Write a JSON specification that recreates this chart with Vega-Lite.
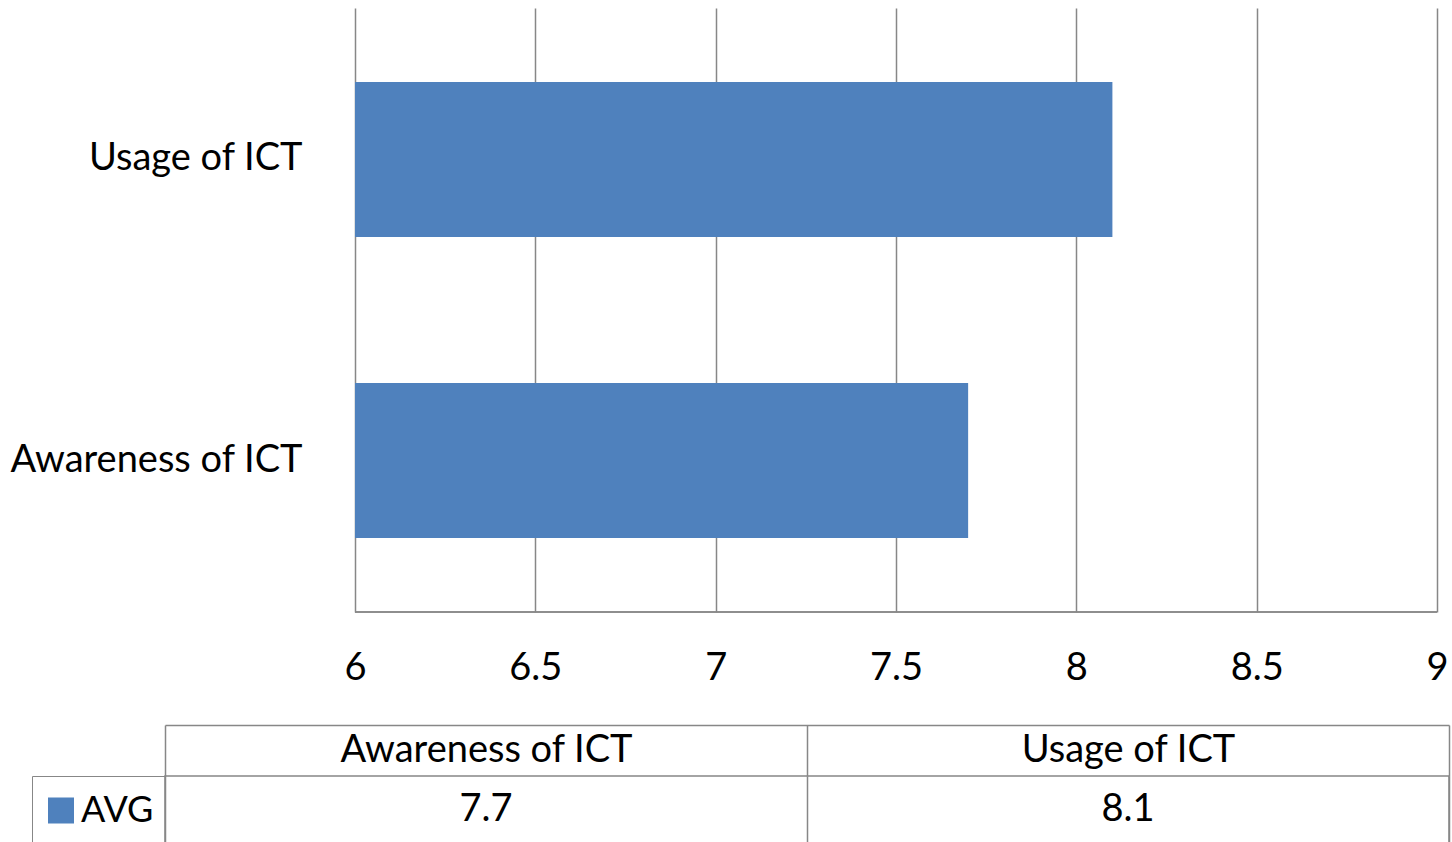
{
  "$schema": "https://vega.github.io/schema/vega-lite/v6.json",
  "autosize": {"type": "none"},
  "padding": {"left": 165, "top": 8, "right": 1287, "bottom": 834},
  "background": "white",
  "data": {"values": [
    {"category": "Awareness of ICT", "series": "AVG", "value": 7.7},
    {"category": "Usage of ICT", "series": "AVG", "value": 8.1}
  ]},
  "config": {
    "view": {"stroke": null},
    "font": "Lato",
    "axis": {"labelFont": "Lato", "labelFontSize": 38, "labelColor": "#000000", "labelLimit": 600}
  },
  "bounds": "flush",
  "spacing": 164,
  "resolve": {
    "scale": {"x": "independent", "y": "independent", "color": "independent"},
    "axis": {"x": "independent", "y": "independent"},
    "legend": {"color": "independent"}
  },
  "vconcat": [
    {
      "width": 1284,
      "height": 604,
      "layer": [
        {
          "mark": {"type": "bar", "color": "#4F81BD"},
          "encoding": {
            "y": {
              "field": "category", "type": "nominal",
              "scale": {"domain": ["Usage of ICT", "Awareness of ICT"], "paddingInner": 0.485, "paddingOuter": 0.2458},
              "axis": {"orient": "left", "offset": -137, "domain": false, "ticks": false, "tickSize": 0, "labelPadding": 0, "title": null, "grid": false}
            },
            "x": {
              "field": "value", "type": "quantitative",
              "scale": {"domain": [5.4732, 9.03327], "nice": false, "zero": false},
              "axis": {"values": [6, 6.5, 7, 7.5, 8, 8.5, 9], "format": "~g", "grid": true, "gridColor": "#878787", "gridWidth": 1.5, "domain": false, "ticks": false, "tickSize": 0, "labelPadding": 56, "labelBaseline": "middle", "labelFlush": false, "labelOverlap": false, "title": null}
            },
            "x2": {"datum": 6}
          }
        },
        {
          "mark": {"type": "rule", "color": "#878787", "strokeWidth": 1.5},
          "encoding": {"x": {"datum": 6}, "x2": {"datum": 9}, "y": {"value": "height"}}
        }
      ]
    },
    {
      "width": 1284,
      "height": 68,
      "view": {"stroke": "#878787", "strokeWidth": 1.5},
      "encoding": {
        "x": {
          "field": "category", "type": "nominal",
          "scale": {"domain": ["Awareness of ICT", "Usage of ICT"], "paddingInner": 0, "paddingOuter": 0},
          "axis": {"orient": "top", "offset": 51, "domain": true, "domainColor": "#878787", "domainWidth": 1.5, "ticks": true, "tickBand": "extent", "tickSize": -51, "tickColor": "#878787", "tickWidth": 1.5, "grid": true, "gridColor": "#878787", "gridWidth": 1.5, "labelPadding": 26, "labelBaseline": "middle", "labelAngle": 0, "title": null}
        }
      },
      "layer": [
        {
          "mark": {"type": "text", "fontSize": 38, "font": "Lato", "color": "#000000", "baseline": "middle"},
          "encoding": {"text": {"field": "value", "type": "quantitative", "format": ".1f"}}
        },
        {
          "mark": {"type": "point", "shape": "square", "filled": true, "opacity": 0},
          "encoding": {
            "color": {
              "field": "series", "type": "nominal",
              "scale": {"range": ["#4F81BD"]},
              "legend": {"orient": "left", "offset": 0, "title": null, "padding": 11, "clipHeight": 47, "strokeColor": "#878787", "symbolType": "square", "symbolSize": 676, "symbolStrokeWidth": 0, "symbolOpacity": 1, "labelFontSize": 36, "labelFont": "Lato", "labelColor": "#000000", "labelOffset": 2}
            }
          }
        }
      ]
    }
  ]
}
